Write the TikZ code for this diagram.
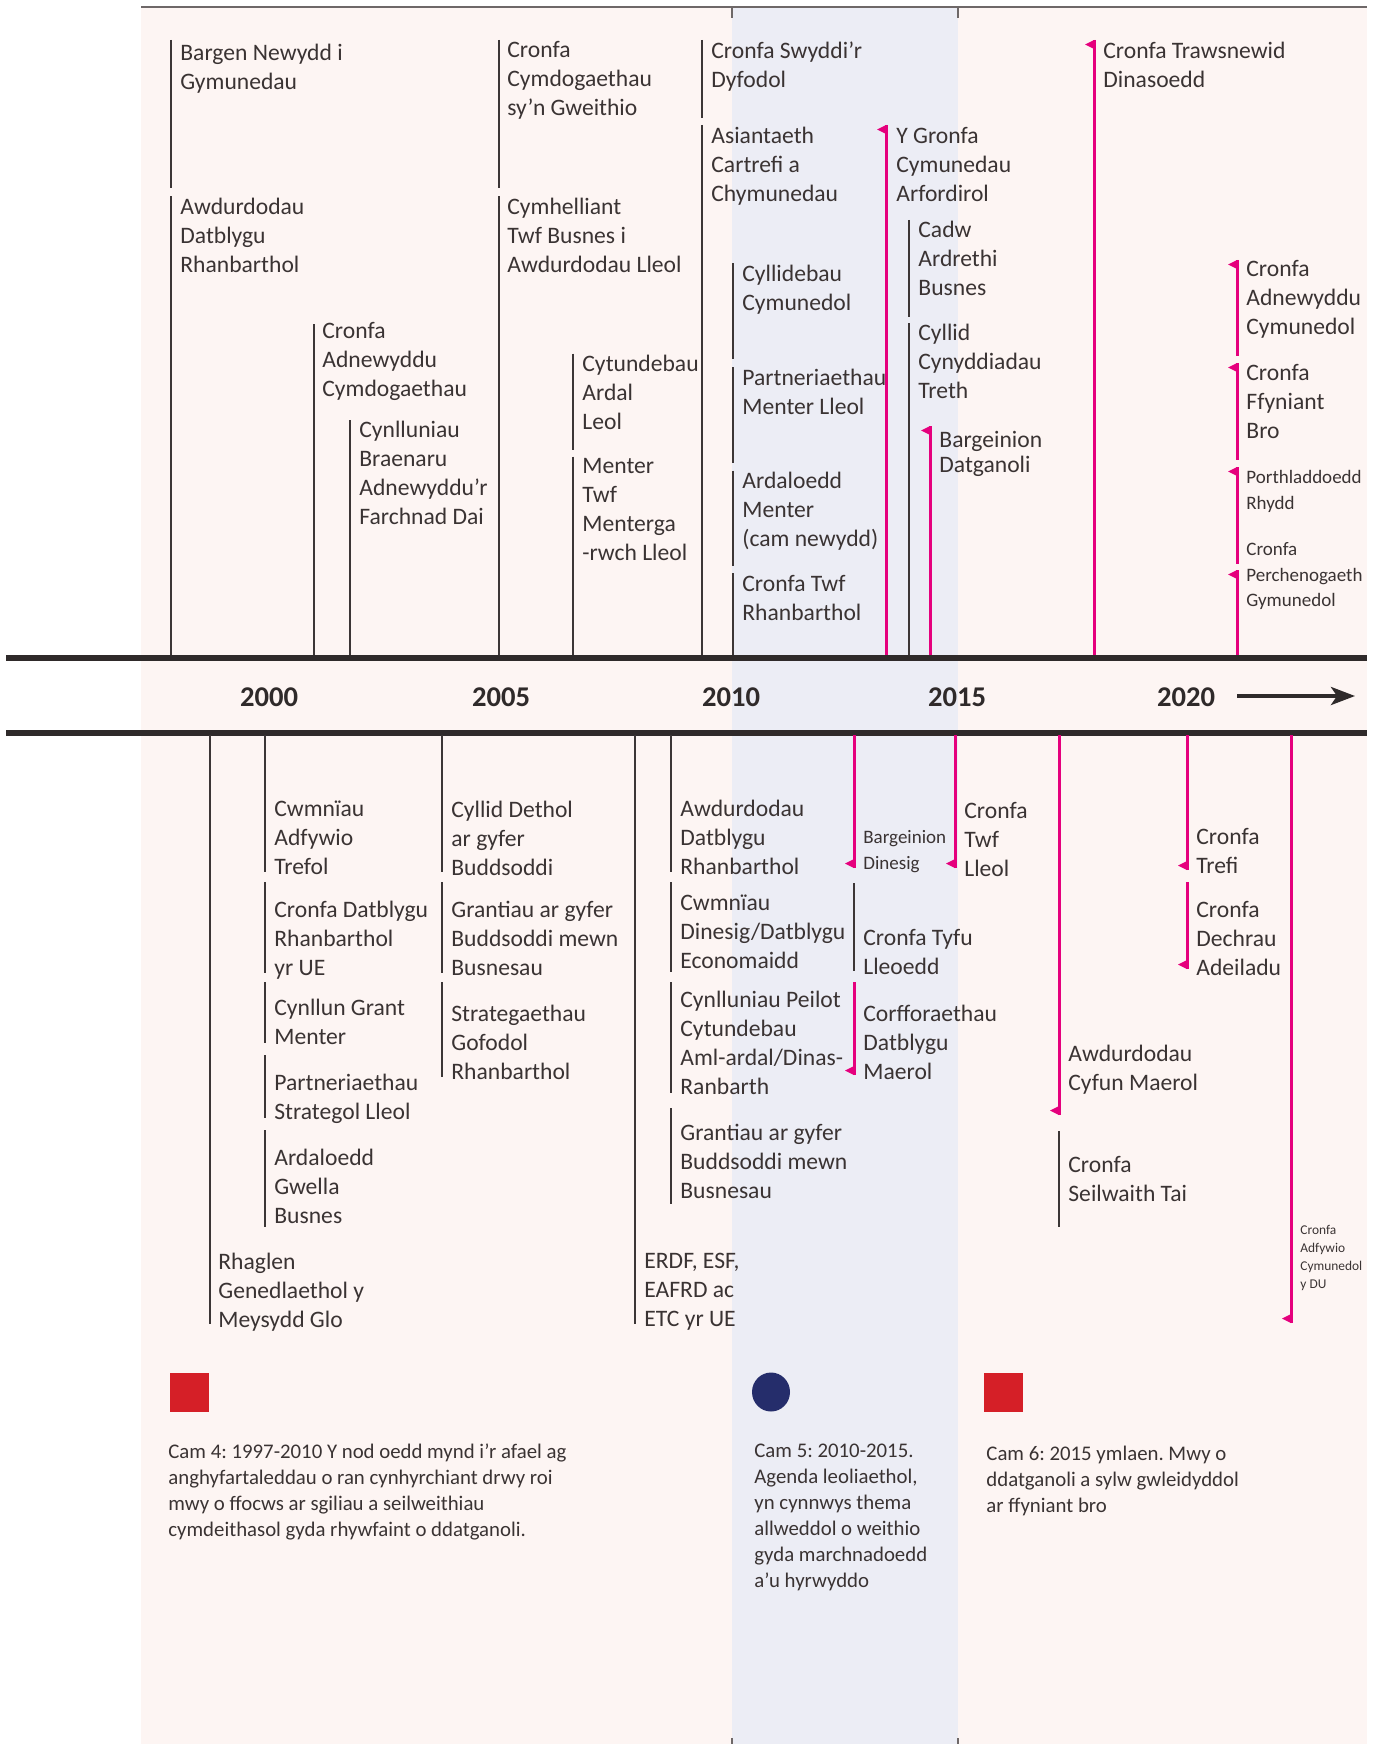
\documentclass[tikz,border=0pt]{standalone}
\usepackage{fontspec}
\setmainfont{Carlito}
\usetikzlibrary{arrows.meta}
\frenchspacing
\definecolor{bgpink}{HTML}{FDF5F3}
\definecolor{bandblue}{HTML}{ECEDF5}
\definecolor{txt}{HTML}{3A3333}
\definecolor{lin}{HTML}{3C3636}
\definecolor{pinkc}{HTML}{E5007D}
\definecolor{axisc}{HTML}{2F2A2A}
\definecolor{redsq}{HTML}{D51F27}
\definecolor{navy}{HTML}{252D6B}
\definecolor{topgray}{HTML}{6E6868}
\tikzset{
  labbase/.style={anchor=north west, inner sep=0pt, align=left, text=txt,
    execute at begin node=\strut},
  lab/.style={labbase, font=\fontsize{11.8}{14.5}\selectfont, yshift=4.2pt},
  labtight/.style={labbase, font=\fontsize{11.8}{12.8}\selectfont, yshift=4pt},
  labs/.style={labbase, font=\fontsize{9.5}{12.75}\selectfont, yshift=3.3pt},
  labt/.style={labbase, font=\fontsize{6.7}{9}\selectfont, yshift=2.25pt},
  labcam/.style={labbase, font=\fontsize{10.4}{13}\selectfont, yshift=3.8pt},
  gline/.style={line width=1pt, draw=lin},
  pline/.style={line width=1.5pt, draw=pinkc},
  axisline/.style={line width=2.8pt, draw=axisc},
  year/.style={inner sep=0pt, text=axisc, font=\fontsize{14.3}{16}\selectfont\bfseries},
  flagc/.style={fill=pinkc, draw=none},
}
% pink flag at top end / at bottom end of a line
\newcommand\topflag[2]{\fill[flagc] (#1,#2) -- (#1-9,#2+4.5) -- (#1,#2+9) -- cycle;}
\newcommand\botflag[2]{\fill[flagc] (#1,#2) -- (#1-9,#2-4.5) -- (#1,#2-9) -- cycle;}
\begin{document}
\begin{tikzpicture}[x=0.5pt,y=-0.5pt]
\useasboundingbox (0,0) rectangle (1381,1744);
% backgrounds
\fill[white] (0,0) rectangle (1381,1744);
\fill[bgpink] (141,7) rectangle (1367,1744);
\fill[bandblue] (732,7) rectangle (958,1744);
% top line and band ticks
\draw[topgray, line width=1pt] (141,7) -- (1367,7);
\draw[topgray, line width=0.7pt] (732,7) -- (732,18);
\draw[topgray, line width=0.7pt] (958,7) -- (958,18);
\draw[topgray, line width=0.7pt] (732,1738) -- (732,1744);
\draw[topgray, line width=0.7pt] (958,1738) -- (958,1744);

% ---------------- top section ----------------
\draw[gline] (171,40) -- (171,188);
\node[lab] (t1) at (180,52.6) {Bargen Newydd i\\Gymunedau};
\draw[gline] (171,196.5) -- (171,656);
\node[lab] (t2) at (180,206) {Awdurdodau\\Datblygu\\Rhanbarthol};
\draw[gline] (314,324) -- (314,656);
\node[lab] (t3) at (322,330) {Cronfa\\Adnewyddu\\Cymdogaethau};
\draw[gline] (350,420) -- (350,656);
\node[lab] (t4) at (359,429) {Cynlluniau\\Braenaru\\Adnewyddu'r\\Farchnad Dai};
\draw[gline] (499,40) -- (499,188);
\node[lab] (t5) at (507,49.7) {Cronfa\\Cymdogaethau\\sy'n Gweithio};
\draw[gline] (499,196.5) -- (499,656);
\node[lab] (t6) at (507,206) {Cymhelliant\\Twf Busnes i\\Awdurdodau Lleol};
\draw[gline] (573,353.5) -- (573,449.5);
\node[lab] (t7) at (582,363) {Cytundebau\\Ardal\\Leol};
\draw[gline] (573,456.6) -- (573,656);
\node[lab] (t8) at (582,466) {Menter\\Twf\\Menterga\\-rwch Lleol};
\draw[gline] (702,40) -- (702,118);
\node[lab] (t9) at (711,49.7) {Cronfa Swyddi'r\\Dyfodol};
\draw[gline] (702,125) -- (702,656);
\node[lab] (t10) at (711,135) {Asiantaeth\\Cartrefi a\\Chymunedau};
\draw[gline] (733,263) -- (733,358.6);
\node[lab] (t11) at (742,273) {Cyllidebau\\Cymunedol};
\draw[gline] (733,367) -- (733,463);
\node[lab] (t12) at (742,377) {Partneriaethau\\Menter Lleol};
\draw[gline] (733,470.5) -- (733,566);
\node[lab] (t13) at (742,480.6) {Ardaloedd\\Menter\\(cam newydd)};
\draw[gline] (733,573) -- (733,656);
\node[lab] (t14) at (742,583) {Cronfa Twf\\Rhanbarthol};
\draw[pline] (886,125) -- (886,656); \topflag{886}{125}
\node[lab] (t15) at (896,135) {Y Gronfa\\Cymunedau\\Arfordirol};
\draw[gline] (909,220) -- (909,316.5);
\node[lab] (t16) at (918,229) {Cadw\\Ardrethi\\Busnes};
\draw[gline] (909,323) -- (909,656);
\node[lab] (t17) at (918,332.5) {Cyllid\\Cynyddiadau\\Treth};
\draw[pline] (930,426) -- (930,656); \topflag{930}{426}
\node[labtight] (t18) at (939,438.5) {Bargeinion\\Datganoli};
\draw[pline] (1094,40) -- (1094,656); \topflag{1094}{40}
\node[lab] (t19) at (1103,49.7) {Cronfa Trawsnewid\\Dinasoedd};
\draw[pline] (1237,260) -- (1237,355.6); \topflag{1237}{260}
\node[lab] (t20) at (1246,268.5) {Cronfa\\Adnewyddu\\Cymunedol};
\draw[pline] (1237,363) -- (1237,459.6); \topflag{1237}{363}
\node[lab] (t21) at (1246,372) {Cronfa\\Ffyniant\\Bro};
\draw[pline] (1237,467) -- (1237,564); \topflag{1237}{467}
\node[labs] (t22) at (1246,477) {Porthladdoedd\\Rhydd};
\draw[pline] (1237,570) -- (1237,656); \topflag{1237}{570}
\node[labs] (t23) at (1246,549) {Cronfa\\Perchenogaeth\\Gymunedol};

% ---------------- axis ----------------
\draw[axisline] (6,658) -- (1367,658);
\draw[axisline] (6,733) -- (1367,733);
\node[year] (y2000) at (269,697) {2000};
\node[year] (y2005) at (501,697) {2005};
\node[year] (y2010) at (731,697) {2010};
\node[year] (y2015) at (957,697) {2015};
\node[year] (y2020) at (1186,697) {2020};
\coordinate (arA) at (1237,696);
\coordinate (arB) at (1355,696);
\draw[axisc, line width=2pt, -{Stealth[length=12pt,width=9pt,inset=3pt]}] (arA) -- (arB);

% ---------------- bottom section ----------------
\draw[gline] (210,735) -- (210,1324);
\node[lab] (b1) at (218,1261) {Rhaglen\\Genedlaethol y\\Meysydd Glo};
\draw[gline] (265,735) -- (265,872);
\node[lab] (b2) at (274,809) {Cwmnïau\\Adfywio\\Trefol};
\draw[gline] (265,882) -- (265,973);
\node[lab] (b3) at (274,909) {Cronfa Datblygu\\Rhanbarthol\\yr UE};
\draw[gline] (265,982) -- (265,1043);
\node[lab] (b4) at (274,1007) {Cynllun Grant\\Menter};
\draw[gline] (265,1055) -- (265,1118);
\node[lab] (b5) at (274,1082) {Partneriaethau\\Strategol Lleol};
\draw[gline] (265,1130) -- (265,1227);
\node[lab] (b6) at (274,1157) {Ardaloedd\\Gwella\\Busnes};
\draw[gline] (442,735) -- (442,872);
\node[lab] (b7) at (451,809) {Cyllid Dethol\\ar gyfer\\Buddsoddi};
\draw[gline] (442,882) -- (442,973);
\node[lab] (b8) at (451,909) {Grantiau ar gyfer\\Buddsoddi mewn\\Busnesau};
\draw[gline] (442,982) -- (442,1077);
\node[lab] (b9) at (451,1013) {Strategaethau\\Gofodol\\Rhanbarthol};
\draw[gline] (635,735) -- (635,1324);
\node[lab] (b10) at (644,1261) {ERDF, ESF,\\EAFRD ac\\ETC yr UE};
\draw[gline] (671,735) -- (671,872);
\node[lab] (b11) at (680,808) {Awdurdodau\\Datblygu\\Rhanbarthol};
\draw[gline] (671,882) -- (671,972);
\node[lab] (b12) at (680,903) {Cwmnïau\\Dinesig/Datblygu\\Economaidd};
\draw[gline] (671,982) -- (671,1093);
\node[lab] (b13) at (680,999) {Cynlluniau Peilot\\Cytundebau\\Aml-ardal/Dinas-\\Ranbarth};
\draw[gline] (671,1108) -- (671,1204);
\node[lab] (b14) at (680,1132) {Grantiau ar gyfer\\Buddsoddi mewn\\Busnesau};
\draw[pline] (854,735) -- (854,868); \botflag{854}{868}
\node[labs, yshift=-0.4pt] (b15) at (863,836) {Bargeinion\\Dinesig};
\draw[pline] (955,735) -- (955,868); \botflag{955}{868}
\node[lab] (b16) at (964,810) {Cronfa\\Twf\\Lleol};
\draw[gline] (854,883) -- (854,971);
\node[lab] (b17) at (863,937) {Cronfa Tyfu\\Lleoedd};
\draw[pline] (854,982) -- (854,1075); \botflag{854}{1075}
\node[lab] (b18) at (863,1013) {Corfforaethau\\Datblygu\\Maerol};
\draw[pline] (1059,735) -- (1059,1115); \botflag{1059}{1115}
\node[lab] (b19) at (1068,1053) {Awdurdodau\\Cyfun Maerol};
\draw[gline] (1059,1131) -- (1059,1227);
\node[lab] (b20) at (1068,1164) {Cronfa\\Seilwaith Tai};
\draw[pline] (1187,735) -- (1187,870); \botflag{1187}{870}
\node[lab] (b21) at (1196,836) {Cronfa\\Trefi};
\draw[pline] (1187,882) -- (1187,969); \botflag{1187}{969}
\node[lab] (b22) at (1196,909) {Cronfa\\Dechrau\\Adeiladu};
\draw[pline] (1291,735) -- (1291,1323); \botflag{1291}{1323}
\node[labt] (b23) at (1300,1229) {Cronfa\\Adfywio\\Cymunedol\\y DU};

% ---------------- legend ----------------
\fill[redsq] (170,1373) rectangle (209,1412);
\node[labcam] (cam4) at (168,1451) {Cam 4: 1997-2010 Y nod oedd mynd i'r afael ag\\anghyfartaleddau o ran cynhyrchiant drwy roi\\mwy o ffocws ar sgiliau a seilweithiau\\cymdeithasol gyda rhywfaint o ddatganoli.};
\fill[navy] (771,1392) ellipse [x radius=19, y radius=19.5];
\node[labcam] (cam5) at (754,1451) {Cam 5: 2010-2015.\\Agenda leoliaethol,\\yn cynnwys thema\\allweddol o weithio\\gyda marchnadoedd\\a'u hyrwyddo};
\fill[redsq] (984,1373) rectangle (1023,1412);
\node[labcam] (cam6) at (986,1453) {Cam 6: 2015 ymlaen. Mwy o\\ddatganoli a sylw gwleidyddol\\ar ffyniant bro};
\end{tikzpicture}
\end{document}
